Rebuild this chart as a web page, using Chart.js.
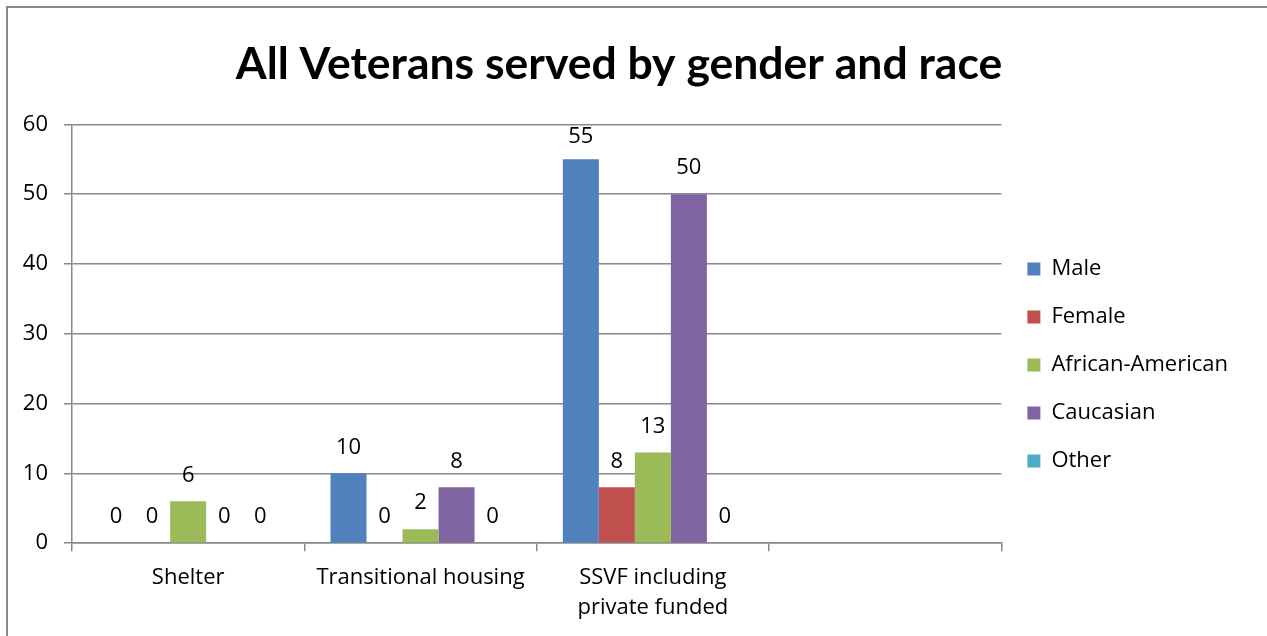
<!DOCTYPE html>
<html>
<head>
<meta charset="utf-8">
<script src="https://cdn.jsdelivr.net/npm/chart.js@4.4.1/dist/chart.umd.min.js"></script>
<style>
  body { margin: 0; background: #fff; overflow: hidden; }
  #wrap { position: relative; width: 1267px; height: 636px; }
  #frame { position: absolute; left: 6px; top: 6px; width: 1270px; height: 640px; border-left: 2px solid #888; border-top: 2px solid #888; }
  canvas { position: absolute; left: 0; top: 0; }
</style>
</head>
<body>
<div id="wrap">
  <div id="frame"></div>
  <canvas id="chart" width="1267" height="636"></canvas>
</div>
<script>
// chart data
const chartTitle = 'All Veterans served by gender and race';
const categories = ['Shelter', 'Transitional housing', ['SSVF including', 'private funded'], ''];
const seriesNames = ['Male', 'Female', 'African-American', 'Caucasian', 'Other'];
const maleVals = [0, 10, 55, null];
const femaleVals = [0, 0, 8, null];
const africanAmericanVals = [6, 2, 13, null];
const caucasianVals = [0, 8, 50, null];
const otherVals = [0, 0, 0, null];
const yTicks = [0, 10, 20, 30, 40, 50, 60];

const seriesColors = ['#4F81BD', '#C0504D', '#9BBB59', '#8064A2', '#4BACC6'];
const allVals = [maleVals, femaleVals, africanAmericanVals, caucasianVals, otherVals];

const FONT = 'Open Sans';
const gridGray = '#888888';

// draws the number above each bar
const valueLabels = {
    id: 'valueLabels',
    afterDatasetsDraw(chart) {
        const ctx = chart.ctx;
        ctx.save();
        ctx.font = '22px "' + FONT + '"';
        ctx.fillStyle = '#000';
        ctx.textAlign = 'center';
        ctx.textBaseline = 'middle';
        chart.data.datasets.forEach((ds, di) => {
            const meta = chart.getDatasetMeta(di);
            meta.data.forEach((bar, i) => {
                if (ds.data[i] === null) return;
                let y = Math.max(bar.y - 26, chart.chartArea.top + 12);
                ctx.fillText(String(ds.data[i]), bar.x, y);
            });
        });
        ctx.restore();
    }
};

function drawChart() {
    let datasets = [];
    for (let i = 0; i < seriesNames.length; i++) {
        datasets.push({
            label: seriesNames[i],
            data: allVals[i],
            backgroundColor: seriesColors[i],
            borderWidth: 0,
            categoryPercentage: 0.775,
            barPercentage: 1
        });
    }

    new Chart(document.getElementById('chart'), {
        type: 'bar',
        data: { labels: categories, datasets: datasets },
        plugins: [valueLabels],
        options: {
            responsive: false,
            animation: false,
            layout: { padding: { top: 0, bottom: 1, left: 0, right: 29 } },
            scales: {
                x: {
                    grid: { offset: true, drawOnChartArea: false, color: gridGray, lineWidth: 1.5, tickLength: 8 },
                    border: { color: gridGray, width: 1.5 },
                    ticks: { color: '#000', font: { family: FONT, size: 22, lineHeight: 1.36 }, padding: 12, maxRotation: 0, autoSkip: false }
                },
                y: {
                    min: 0,
                    max: 60,
                    afterBuildTicks: (axis) => { axis.ticks = yTicks.map(v => ({ value: v })); },
                    afterFit: (axis) => { axis.width = 72; },
                    grid: { color: gridGray, lineWidth: 1.5, tickLength: 8 },
                    border: { color: gridGray, width: 1.5 },
                    ticks: { color: '#000', font: { family: FONT, size: 22 }, padding: 16 }
                }
            },
            plugins: {
                title: {
                    display: true,
                    text: chartTitle,
                    color: '#000',
                    font: { family: 'Lato', size: 44.5, weight: 'bold', lineHeight: 1.2 },
                    padding: { top: 38, bottom: 33 }
                },
                tooltip: { enabled: false },
                legend: {
                    position: 'right',
                    title: { display: true, text: '', font: { size: 20 }, padding: { top: 36, bottom: 35 } },
                    labels: {
                        color: '#000',
                        font: { family: FONT, size: 22 },
                        boxWidth: 13,
                        boxHeight: 13,
                        padding: 26
                    }
                }
            }
        }
    });
}

Promise.all([
    document.fonts.load('22px "Open Sans"'),
    document.fonts.load('bold 45px Lato')
]).then(drawChart, drawChart);
</script>
</body>
</html>
